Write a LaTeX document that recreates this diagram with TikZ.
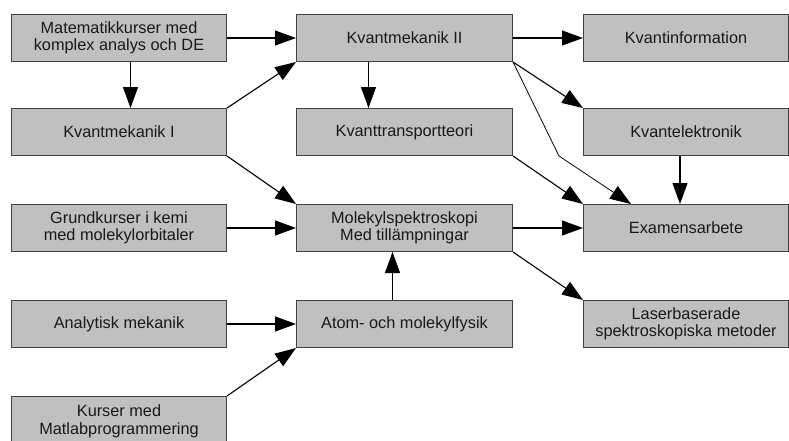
\documentclass[tikz,border=0pt]{standalone}
\usepackage{fontspec}
\setmainfont{Liberation Sans}
\usetikzlibrary{arrows.meta,calc}
\definecolor{boxfill}{HTML}{C0C0C0}
\definecolor{boxline}{HTML}{404040}
\begin{document}
\begin{tikzpicture}[x=1pt,y=-1pt,
  course/.style={draw=boxline,line width=1pt,fill=boxfill,rectangle,anchor=north west,
    minimum height=47pt,inner sep=0pt,align=center,
    font=\fontsize{16.3}{17.5}\selectfont,text=black!90},
  narrowbox/.style={course,minimum width=215pt},
  widebox/.style={course,minimum width=216pt},
  rightbox/.style={course,minimum width=205pt},
  link/.style={line width=1.1pt,-{Triangle[length=21pt,width=15pt]}},
  thinlink/.style={line width=0.8pt,-{Triangle[length=21pt,width=15pt]}}]
\useasboundingbox (0,0) rectangle (789,440);
\clip (0,0) rectangle (789,440);

% left column
\node[narrowbox] (mat)  at (11,14)  {Matematikkurser med\\komplex analys och DE};
\node[narrowbox] (ki)   at (11,108) {Kvantmekanik I};
\node[narrowbox] (kemi) at (11,204) {Grundkurser i kemi\\med molekylorbitaler};
\node[narrowbox] (anal) at (11,300) {Analytisk mekanik};
\node[narrowbox,minimum height=50pt] (matlab) at (11,396) {Kurser med\\Matlabprogrammering};

% middle column
\node[widebox] (kii)   at (296,14)  {Kvantmekanik II};
\node[widebox] (trans) at (296,108) {Kvanttransportteori};
\node[widebox] (mol)   at (296,204) {Molekylspektroskopi\\Med tillämpningar};
\node[widebox] (atom)  at (296,300) {Atom- och molekylfysik};

% right column
\node[rightbox] (info)  at (583,14)  {Kvantinformation};
\node[rightbox] (elek)  at (583,108) {Kvantelektronik};
\node[rightbox] (exam)  at (583,204) {Examensarbete};
\node[rightbox] (laser) at (583,300) {Laserbaserade\\spektroskopiska metoder};

\coordinate (bend) at (559,156);

% prerequisites
\draw[link] (mat.east) -- (kii.west);
\draw[link] ([xshift=11.5pt]mat.south) -- ([xshift=11.5pt]ki.north);
\draw[link] (ki.north east) -- (kii.south west);
\draw[link] (ki.south east) -- (mol.north west);
\draw[link] (kemi.east) -- (mol.west);
\draw[link] (anal.east) -- (atom.west);
\draw[link] (matlab.north east) -- (atom.south west);
\draw[link] ([xshift=-12pt]atom.north) -- ([xshift=-12pt]mol.south);

\draw[link] ([xshift=-36pt]kii.south) -- ([xshift=-36pt]trans.north);
\draw[link] (kii.east) -- (info.west);
\draw[link] (kii.south east) -- (elek.north west);
\draw[thinlink] (kii.south east) -- (bend) -- ([xshift=-55pt]exam.north);
\draw[link] (trans.south east) -- (exam.north west);
\draw[link] ([xshift=-6pt]elek.south) -- ([xshift=-6pt]exam.north);
\draw[link] (mol.east) -- (exam.west);
\draw[link] (mol.south east) -- (laser.north west);
\end{tikzpicture}
\end{document}
